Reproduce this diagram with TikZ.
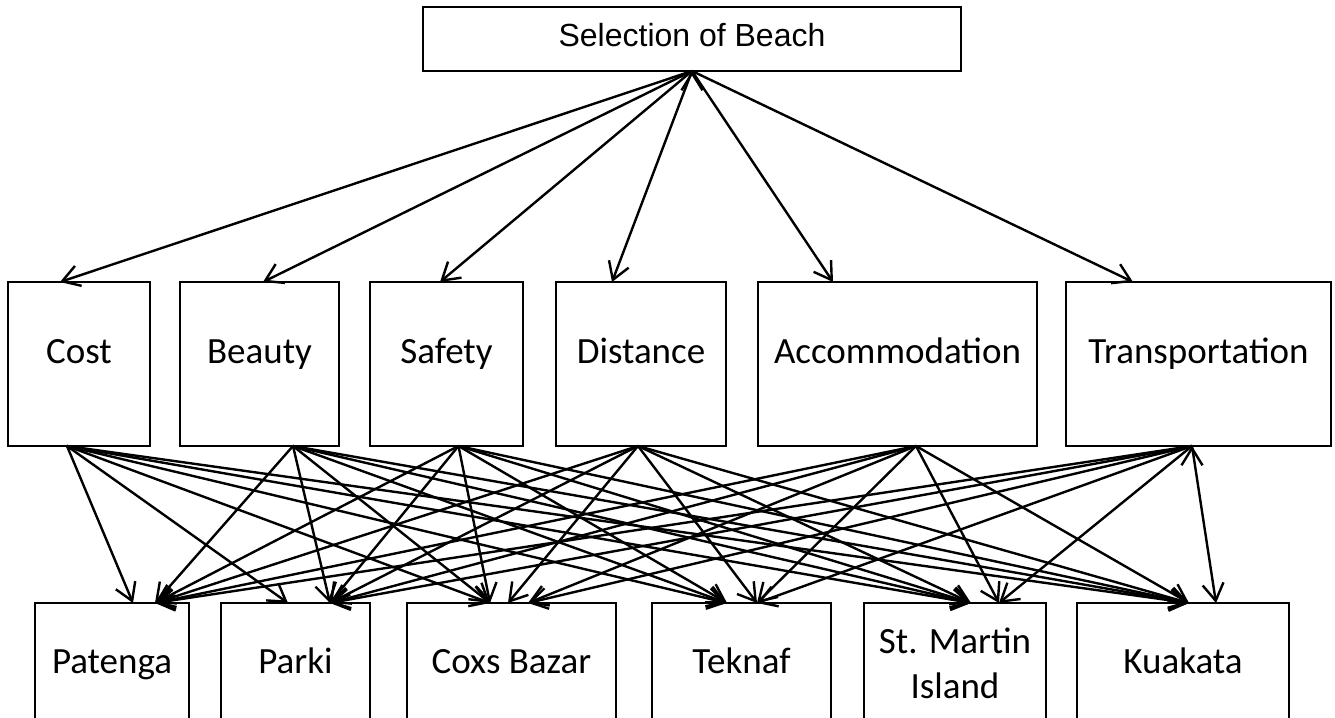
\documentclass[tikz,border=0pt]{standalone}
\usepackage{fontspec}
\setmainfont{Carlito}
\newfontfamily\arialfont{Liberation Sans}
\usetikzlibrary{arrows.meta}
\usetikzlibrary{positioning}

\begin{document}
\begin{tikzpicture}[x=1pt,y=-1pt,->,>={Straight Barb[length=17pt,width=21pt]},
                    line width=2.4pt,outer sep=0pt,inner sep=0pt,
                    goal node/.style={draw,line width=1.6pt,minimum width=538pt,minimum height=64pt,
                      font=\arialfont\fontsize{32}{38}\selectfont,text height=22pt,text depth=6.6pt},
                    crit node/.style={draw,line width=2.6pt,minimum height=164pt,
                      font=\fontsize{37}{45}\selectfont,text height=25pt,text depth=27pt},
                    alt node/.style={draw,line width=2.6pt,minimum height=120pt,anchor=north,align=center,
                      font=\fontsize{37}{45}\selectfont,text height=25pt,text depth=5pt}]

  \useasboundingbox (0,0) rectangle (1335,717);

  \node[goal node] (goal) at (692,39) {Selection of Beach};

  % criteria
  \node[crit node,minimum width=142pt] (cost) at (79,364) {Cost};
  \node[crit node,minimum width=159pt] (beauty) [right=30pt of cost] {Beauty};
  \node[crit node,minimum width=153pt] (safety) [right=31pt of beauty] {Safety};
  \node[crit node,minimum width=170pt] (distance) [right=33pt of safety] {Distance};
  \node[crit node,minimum width=279pt] (accom) [right=32pt of distance] {Accommodation};
  \node[crit node,minimum width=265pt] (transp) [right=29pt of accom] {Transportation};

  % beaches
  \node[alt node,minimum width=154pt] (patenga) at (112,603) {Patenga};
  \node[alt node,minimum width=149pt] (parki) [right=32pt of patenga] {Parki};
  \node[alt node,minimum width=209pt] (coxs) [right=37pt of parki] {Coxs Bazar};
  \node[alt node,minimum width=179pt] (teknaf) [right=36pt of coxs] {Teknaf};
  \node[alt node,minimum width=182pt,text height={},text depth={}] (martin) [right=33pt of teknaf] {St. Martin\\Island};
  \node[alt node,minimum width=212pt] (kuakata) [right=31pt of martin] {Kuakata};

  \coordinate (cost-out) at ([xshift=-12pt]cost.south);
  \coordinate (beauty-out) at ([xshift=33.5pt]beauty.south);
  \coordinate (safety-out) at ([xshift=12pt]safety.south);
  \coordinate (distance-out) at ([xshift=-3pt]distance.south);
  \coordinate (accom-out) at ([xshift=18.5pt]accom.south);
  \coordinate (transp-out) at ([xshift=-6.5pt]transp.south);

  \coordinate (patenga-a) at ([xshift=21pt]patenga.north);
  \coordinate (patenga-b) at ([xshift=43pt]patenga.north);
  \coordinate (parki-a) at ([xshift=-7.5pt]parki.north);
  \coordinate (parki-b) at ([xshift=34.5pt]parki.north);
  \coordinate (coxs-a) at ([xshift=-21.5pt]coxs.north);
  \coordinate (coxs-b) at ([xshift=-3.5pt]coxs.north);
  \coordinate (coxs-c) at ([xshift=16.5pt]coxs.north);
  \coordinate (teknaf-a) at ([xshift=-14.5pt]teknaf.north);
  \coordinate (teknaf-b) at ([xshift=15.5pt]teknaf.north);
  \coordinate (martin-a) at ([xshift=16pt]martin.north);
  \coordinate (martin-b) at ([xshift=44pt]martin.north);
  \coordinate (kuakata-a) at ([xshift=6pt]kuakata.north);
  \coordinate (kuakata-b) at ([xshift=33pt]kuakata.north);

  \draw
    (goal.south) edge ([xshift=-19pt]cost.north)
                 edge ([xshift=3.5pt]beauty.north)
                 edge ([xshift=-6.5pt]safety.north)
                 edge ([xshift=-29pt]distance.north)
                 edge ([xshift=-64.5pt]accom.north)
                 edge ([xshift=-65.5pt]transp.north);

  \draw
    (cost-out) edge (patenga-a) edge (parki-a) edge (coxs-a)
               edge (teknaf-a) edge (martin-a) edge (kuakata-a)
    (beauty-out) edge (patenga-b) edge (parki-b) edge (coxs-a)
                 edge (teknaf-a) edge (martin-a) edge (kuakata-a)
    (safety-out) edge (patenga-b) edge (parki-b) edge (coxs-a)
                 edge (teknaf-a) edge (martin-a) edge (kuakata-a)
    (distance-out) edge (patenga-b) edge (parki-b) edge (coxs-b)
                   edge (teknaf-b) edge (martin-a) edge (kuakata-a)
    (accom-out) edge (patenga-b) edge (parki-b) edge (coxs-c)
                edge (teknaf-b) edge (martin-b) edge (kuakata-a)
    (transp-out) edge (patenga-b) edge (parki-b) edge (coxs-c)
                 edge (teknaf-b) edge (martin-b) edge (kuakata-b);
\end{tikzpicture}
\end{document}
